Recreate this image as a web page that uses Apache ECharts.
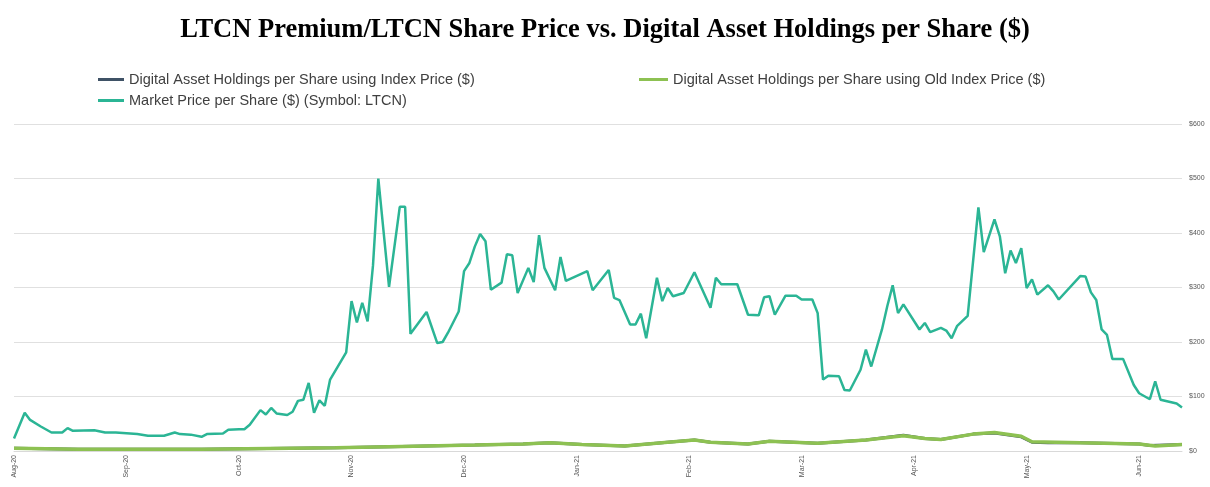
<!DOCTYPE html>
<html>
<head>
<meta charset="utf-8">
<script src="https://cdn.jsdelivr.net/npm/echarts@6/dist/echarts.min.js"></script>
<style>
  html, body { margin: 0; padding: 0; background: #fff; }
  #main { width: 1210px; height: 487px; }
</style>
</head>
<body>
<div id="main"></div>
<script>
// month tick labels, one every 21 trading days
var monthLabels = ['Aug-20', 'Sep-20', 'Oct-20', 'Nov-20', 'Dec-20', 'Jan-21', 'Feb-21', 'Mar-21', 'Apr-21', 'May-21', 'Jun-21']
var daysPerLabel = 21
var dayCount = 219

// [trading day, $]
var marketPrice = [
    [0, 23], [2, 70], [3, 57], [5, 45], [7, 34], [9, 34], [10, 42], [11, 37], [15, 38], [17, 34], [19, 34],
    [23, 31], [25, 28], [28, 28], [30, 34], [31, 31], [33, 30], [35, 26], [36, 31], [39, 32], [40, 39], [42, 40],
    [43, 40], [44, 48], [46, 75], [47, 67], [48, 79], [49, 69], [51, 66], [52, 72], [53, 92], [54, 94], [55, 125],
    [56, 70], [57, 93], [58, 83], [59, 131], [62, 181], [63, 275], [64, 236], [65, 272], [66, 238], [67, 340],
    [68, 500], [70, 301], [72, 448], [73, 448], [74, 215], [77, 255], [79, 198], [80, 200], [81, 217], [83, 256],
    [84, 330], [85, 345], [86, 375], [87, 398], [88, 385], [89, 296], [91, 309], [92, 361], [93, 359], [94, 290],
    [96, 336], [97, 310], [98, 396], [99, 336], [101, 295], [102, 356], [103, 312], [107, 330], [108, 295],
    [111, 332], [112, 281], [113, 277], [115, 232], [116, 232], [117, 252], [118, 207], [120, 318], [121, 275],
    [122, 299], [123, 284], [125, 290], [127, 328], [130, 263], [131, 318], [132, 306], [135, 306], [137, 250],
    [139, 249], [140, 282], [141, 284], [142, 250], [144, 285], [146, 285], [147, 278], [149, 278], [150, 253],
    [151, 131], [152, 138], [154, 137], [155, 112], [156, 111], [158, 149], [159, 186], [160, 155], [162, 223],
    [163, 266], [164, 304], [165, 253], [166, 269], [169, 223], [170, 235], [171, 218], [173, 226], [174, 221],
    [175, 207], [176, 229], [178, 248], [180, 447], [181, 365], [183, 425], [184, 394], [185, 326], [186, 368],
    [187, 345], [188, 372], [189, 299], [190, 315], [191, 287], [193, 304], [194, 293], [195, 278], [199, 321],
    [200, 320], [201, 291], [202, 277], [203, 223], [204, 213], [205, 169], [207, 169], [209, 121], [210, 106],
    [212, 95], [213, 128], [214, 94], [217, 87], [218, 80]
]

var oldIndexHoldings = [
    [0, 5], [12, 3], [35, 3], [60, 6], [70, 8], [86, 11], [95, 13], [100, 15], [106, 12], [114, 9], [122, 16],
    [127, 20], [130, 16], [137, 13], [141, 18], [150, 14], [159, 20], [166, 28], [170, 23], [173, 21], [179, 31],
    [183, 34], [188, 27], [190, 17], [199, 15], [210, 13], [213, 9], [218, 12]
]

var indexHoldings = [
    [0, 5], [12, 3], [35, 3], [60, 6], [70, 8], [86, 11], [95, 13], [100, 15], [106, 12], [114, 9], [122, 16],
    [127, 20], [130, 16], [137, 13], [141, 18], [150, 14], [159, 20], [166, 29], [170, 23], [173, 21], [179, 31],
    [183, 33], [188, 26], [190, 16], [193, 15], [199, 15], [210, 13], [212, 10], [218, 12]
]

var categories = []
for (var i = 0; i < dayCount; i++) {
    categories.push('d' + i)
}

var myChart = echarts.init(document.getElementById('main'))

var legendText = { fontFamily: 'Liberation Sans', fontSize: 14.5, color: '#404040' }

var option = {
    animation: false,
    title: {
        text: 'LTCN Premium/LTCN Share Price vs. Digital Asset Holdings per Share ($)',
        left: 'center',
        top: 12,
        textStyle: { fontFamily: 'Liberation Serif', fontSize: 26.5, fontWeight: 'bold', color: '#000' }
    },
    legend: [{
        data: ['Digital Asset Holdings per Share using Index Price ($)', 'Market Price per Share ($) (Symbol: LTCN)'],
        orient: 'vertical',
        left: 93,
        top: 67,
        icon: 'rect',
        itemWidth: 26,
        itemHeight: 3,
        itemGap: 6,
        textStyle: legendText
    }, {
        data: ['Digital Asset Holdings per Share using Old Index Price ($)'],
        left: 634,
        top: 67,
        icon: 'rect',
        itemWidth: 29,
        itemHeight: 3,
        textStyle: legendText
    }],
    grid: {
        left: 14,
        right: 28,
        top: 124,
        bottom: 36
    },
    xAxis: {
        type: 'category',
        boundaryGap: false,
        data: categories,
        axisLine: { lineStyle: { color: '#d9d9d9' } },
        axisTick: { show: false },
        axisLabel: {
            interval: daysPerLabel - 1,
            rotate: 90,
            margin: 4,
            fontSize: 7,
            fontFamily: 'Liberation Sans',
            color: '#555',
            formatter: function (v, idx) {
                return monthLabels[Math.round(idx / daysPerLabel)] || ''
            }
        },
        splitLine: { show: false }
    },
    yAxis: {
        type: 'value',
        position: 'right',
        min: 0,
        max: 600,
        interval: 100,
        axisLine: { show: false },
        axisTick: { show: false },
        axisLabel: {
            margin: 7,
            fontSize: 7,
            fontFamily: 'Liberation Sans',
            color: '#555',
            formatter: '${value}'
        },
        splitLine: { lineStyle: { color: '#e0e0e0', width: 1 } }
    },
    series: [{
        name: 'Digital Asset Holdings per Share using Index Price ($)',
        type: 'line',
        data: indexHoldings,
        symbol: 'none',
        color: '#3f5266',
        lineStyle: { width: 3, color: '#3f5266' }
    }, {
        name: 'Digital Asset Holdings per Share using Old Index Price ($)',
        type: 'line',
        data: oldIndexHoldings,
        symbol: 'none',
        color: '#8dc152',
        lineStyle: { width: 3.5, color: '#8dc152' }
    }, {
        name: 'Market Price per Share ($) (Symbol: LTCN)',
        type: 'line',
        data: marketPrice,
        symbol: 'none',
        color: '#2bb595',
        lineStyle: { width: 2.5, color: '#2bb595' }
    }]
}

myChart.setOption(option)
window.onresize = function () {
    myChart.resize()
}
</script>
</body>
</html>
